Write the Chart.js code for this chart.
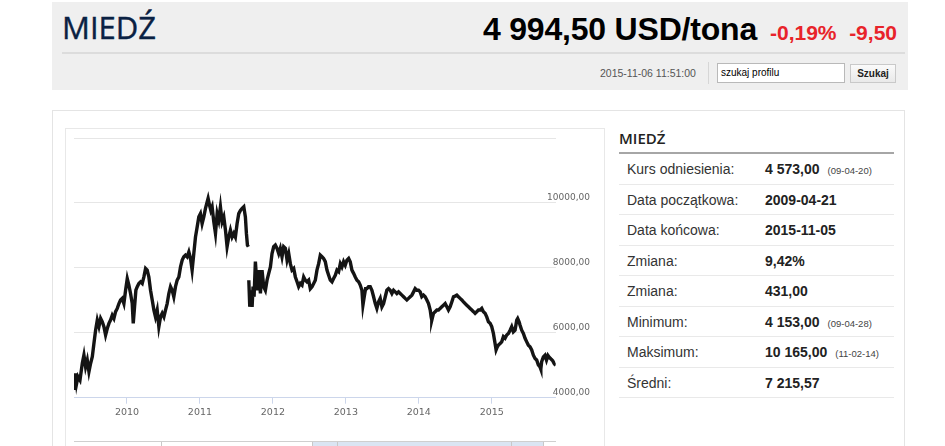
<!DOCTYPE html>
<html lang="pl">
<head>
<meta charset="utf-8">
<title>MIEDŹ</title>
<script src="https://cdn.jsdelivr.net/npm/chart.js@4.4.0/dist/chart.umd.min.js"></script>
<style>
  html, body { margin: 0; padding: 0; background: #fff; overflow: hidden; width: 945px; height: 446px; }
  body { position: relative; font-family: "Liberation Sans", Arial, sans-serif; }
  .abs { position: absolute; white-space: nowrap; }
  #hdr { left: 52px; top: 2px; width: 856px; height: 88px; background: #efefef; }
  #title { left: 62px; top: 12px; font: 400 31px/31px "Open Sans", sans-serif; color: #0a2143; -webkit-text-stroke: 0.4px #0a2143; }
  #price { right: 188px; top: 13px; font: 700 32px/32px "Liberation Sans", Arial, sans-serif; color: #000; letter-spacing: -0.2px; }
  .red { top: 22px; font: 700 21px/21px "Liberation Sans", Arial, sans-serif; color: #e8232a; }
  #hline { left: 62px; top: 52px; width: 843px; height: 2px; background: #dcdcdc; }
  #stamp { left: 600px; top: 67px; font: 10.5px/12px "Liberation Sans", Arial, sans-serif; color: #555; }
  #vsep { left: 708px; top: 62px; width: 1px; height: 22px; background: #d6d6d6; }
  #search { left: 717px; top: 63px; background: #fff; border: 1px solid #b9b9b9; box-sizing: border-box; width: 128px; height: 20px; font: 10px/18px "Liberation Sans", Arial, sans-serif; padding-left: 3px; color: #000; }
  #btn { left: 850px; top: 64px; width: 46px; height: 19px; box-sizing: border-box; border: 1px solid #c9c9c9; background: linear-gradient(#fafafa, #e9e9e9); font: 700 10px/17px "Liberation Sans", Arial, sans-serif; text-align: center; color: #222; }
  #box { left: 52px; top: 110px; width: 853px; height: 340px; border: 1px solid #e4e4e4; border-bottom: none; box-sizing: border-box; }
  #chartbox { left: 65px; top: 128px; width: 540px; height: 330px; border: 1px solid #e8e8e8; box-sizing: border-box; }
  #wrap { left: 66px; top: 129px; width: 534px; height: 312px; }
  #nav { left: 74px; top: 441px; width: 482px; height: 1px; background: #cfcfcf; }
  #navsel { left: 312px; top: 442px; width: 231px; height: 10px; background: #dbe5f3; }
  .navv { top: 442px; width: 1px; height: 10px; background: #c8c8c8; }
  #tbl-title { left: 619px; top: 128px; font: 600 15px/20px "Open Sans", sans-serif; color: #222; }
  #tbl-line { left: 619px; top: 152px; width: 275px; height: 2px; background: #a6a6a6; }
  #tbl { left: 619px; top: 154px; width: 275px; }
  .row { height: 29.5px; border-bottom: 1px solid #e9e9e9; position: relative; font-size: 14px; }
  .row .l { position: absolute; left: 8px; top: 7px; color: #333; }
  .row .v { position: absolute; left: 146px; top: 7px; color: #222; font-weight: 700; }
  .row .d { font-weight: 400; font-size: 9.5px; color: #444; margin-left: 8px; }
</style>
</head>
<body>
<div id="hdr" class="abs"></div>
<div id="title" class="abs">MIEDŹ</div>
<div id="price" class="abs">4 994,50 USD/tona</div>
<div class="abs red" style="left:770px">-0,19%</div>
<div class="abs red" style="right:48px">-9,50</div>
<div id="hline" class="abs"></div>
<div id="stamp" class="abs">2015-11-06 11:51:00</div>
<div id="vsep" class="abs"></div>
<div id="search" class="abs">szukaj profilu</div>
<div id="btn" class="abs">Szukaj</div>

<div id="box" class="abs"></div>
<div id="chartbox" class="abs"></div>
<div id="wrap" class="abs"><canvas id="myChart" width="534" height="312"></canvas></div>
<div id="nav" class="abs"></div>
<div id="navsel" class="abs"></div>
<div class="abs navv" style="left:161px"></div>
<div class="abs navv" style="left:312px"></div>
<div class="abs navv" style="left:337px"></div>
<div class="abs navv" style="left:511px"></div>
<div class="abs navv" style="left:543px"></div>

<div id="tbl-title" class="abs">MIEDŹ</div>
<div id="tbl-line" class="abs"></div>
<div id="tbl" class="abs">
  <div class="row"><span class="l">Kurs odniesienia:</span><span class="v">4 573,00<span class="d">(09-04-20)</span></span></div>
  <div class="row"><span class="l">Data początkowa:</span><span class="v">2009-04-21</span></div>
  <div class="row"><span class="l">Data końcowa:</span><span class="v">2015-11-05</span></div>
  <div class="row"><span class="l">Zmiana:</span><span class="v">9,42%</span></div>
  <div class="row"><span class="l">Zmiana:</span><span class="v">431,00</span></div>
  <div class="row"><span class="l">Minimum:</span><span class="v">4 153,00<span class="d">(09-04-28)</span></span></div>
  <div class="row"><span class="l">Maksimum:</span><span class="v">10 165,00<span class="d">(11-02-14)</span></span></div>
  <div class="row"><span class="l">Średni:</span><span class="v">7 215,57</span></div>
</div>

<script>
// dates as decimal years, prices in USD/t
const dates2009 = [2009.274,2009.283,2009.296,2009.310,2009.328,2009.356,2009.388,2009.410,2009.433,2009.456,
  2009.479,2009.502,2009.525,2009.547,2009.570,2009.593,2009.616,2009.639,2009.661,2009.684,
  2009.707,2009.730,2009.753,2009.775,2009.798,2009.821,2009.844,2009.867,2009.890,2009.912,
  2009.935,2009.958,2009.981,
  2010.004,2010.026,2010.049,2010.072,2010.086,2010.104,2010.122,2010.141,2010.163,2010.186,
  2010.209,2010.232,2010.255,2010.277,2010.300,2010.323,2010.346,2010.369,2010.391,2010.414,
  2010.437,2010.460,2010.483,2010.506,2010.528,2010.551,2010.574,2010.597,2010.620,2010.642,
  2010.665,2010.688,2010.711,2010.734,2010.757,2010.779];
const prices2009 = [4400,4240,4750,4440,4650,4540,5060,5310,4950,5160,
  4800,5060,5260,5670,6080,6390,6190,6440,6340,6190,
  5930,6130,6290,6390,6540,6440,6650,6750,6900,7010,
  7060,6900,7310,
  7670,7470,7210,6900,6290,6800,7310,7420,7520,7570,
  7520,7720,7980,7930,7720,7310,7010,6700,6490,6700,
  6190,6490,6600,6490,6700,6900,7210,7420,7310,7110,
  7420,7620,7720,8030,8240,8340];

const dates2011 = [2010.802,2010.825,2010.848,2010.871,2010.893,2010.916,2010.939,2010.962,2010.985,
  2011.007,2011.030,2011.053,2011.076,2011.099,2011.112,2011.131,2011.149,2011.167,2011.190,
  2011.213,2011.236,2011.258,2011.281,2011.304,2011.327,2011.350,2011.372,2011.395,2011.418,
  2011.441,2011.464,2011.486,2011.509,2011.532,2011.555,2011.578,2011.601,2011.623,2011.637,
  2011.651,2011.664,2011.667,2011.670,2011.683,2011.696,2011.715,2011.728,2011.742,2011.760,
  2011.774,2011.788,2011.806,2011.829,2011.851,2011.874,2011.897,2011.920,2011.943,2011.966,
  2011.988,2012.011,2012.034,2012.057,2012.080,2012.102,2012.125,2012.148,2012.171,2012.194,
  2012.217,2012.239,2012.262,2012.285,2012.308,2012.331,2012.353];
const prices2011 = [8390,8340,8490,8290,7930,8440,8950,9260,9570,
  9670,9360,9570,9830,10030,10140,9930,9770,9880,9420,
  9060,9670,9470,9880,9420,9570,9160,8650,8950,9160,
  8950,9060,8950,9360,9670,9770,9830,9880,9570,9060,
  8700,8650,null,7620,6800,7310,6800,7420,7110,8190,
  7720,7310,7930,7210,7930,7420,7310,7620,7830,8030,
  8440,8650,8700,8600,8440,8600,8340,8650,8600,8240,
  8440,8130,7930,7980,7720,7570,7420];

const dates2012 = [2012.376,2012.399,2012.422,2012.445,2012.467,2012.490,2012.513,2012.536,2012.559,2012.581,
  2012.604,2012.627,2012.650,2012.673,2012.695,2012.718,2012.741,2012.764,2012.787,2012.810,
  2012.832,2012.855,2012.878,2012.901,2012.924,2012.946,2012.969,2012.992,
  2013.015,2013.038,2013.060,2013.083,2013.106,2013.129,2013.152,2013.175,2013.197,2013.220,
  2013.234,2013.252,2013.270,2013.289,2013.311,2013.334,2013.357,2013.380,2013.403,2013.425,
  2013.448,2013.471,2013.494,2013.517,2013.540,2013.562,2013.585,2013.608,2013.631,2013.654,
  2013.677,2013.699,2013.722,2013.745,2013.768,2013.791,2013.813,2013.836,2013.859,2013.882,
  2013.905,2013.928];
const prices2012 = [7520,7470,7720,7620,7570,7620,7360,7420,7520,7620,
  7930,8130,8390,8340,8290,8190,7930,7770,7620,7570,
  7670,7770,7930,7880,8130,8030,8190,8080,
  8240,8290,8190,7930,7830,7720,7620,7570,7470,7310,
  6850,7110,7360,7360,7420,7420,7310,7110,6900,6750,
  6950,7060,6800,6900,7110,7310,7360,7310,7210,7310,
  7260,7210,7260,7210,7160,7110,7060,7010,7060,7110,
  7160,7260];

const dates2014 = [2013.950,2013.973,2013.996,2014.019,2014.041,2014.064,2014.087,2014.110,2014.133,2014.156,
  2014.169,2014.178,2014.201,2014.224,2014.247,2014.270,2014.292,2014.315,2014.338,2014.361,
  2014.384,2014.406,2014.429,2014.452,2014.475,2014.498,2014.521,2014.543,2014.566,2014.589,
  2014.612,2014.634,2014.657,2014.680,2014.703,2014.726,2014.749,2014.771,2014.794,2014.817,
  2014.840,2014.863,2014.885,2014.908,2014.931,2014.954,2014.977,2014.999,
  2015.022,2015.045,2015.059,2015.077,2015.091,2015.114,2015.136,2015.159,2015.182,2015.205,
  2015.228,2015.251,2015.273,2015.296,2015.319,2015.342,2015.355,2015.374,2015.387,2015.410,
  2015.433,2015.456,2015.479,2015.501,2015.524,2015.547,2015.570,2015.593,2015.615,2015.638,
  2015.661,2015.672,2015.684,2015.707,2015.729,2015.750,2015.770,2015.790,2015.812,2015.835,
  2015.855,2015.876];
const prices2014 = [7360,7310,7310,7260,7110,7160,7110,7010,6900,6700,
  6490,6390,6600,6650,6700,6700,6750,6800,6850,6900,
  6800,6700,6800,6950,7110,7130,7160,7110,7060,7010,
  6950,6900,6850,6800,6750,6700,6650,6600,6650,6700,
  6700,6750,6650,6600,6490,6340,6290,6190,
  5980,5670,5470,5570,5620,5670,5720,5880,5830,5930,
  5980,6080,6190,6030,6080,6390,6440,6340,6240,6080,
  5980,5830,5720,5620,5570,5470,5310,5210,5160,5010,
  4950,4880,5110,5260,5310,5160,5300,5240,5190,5140,
  5050,4995];

const yearTicks = [2010, 2011, 2012, 2013, 2014, 2015];
const priceTicks = [4000, 6000, 8000, 10000, 12000];

const dates = [...dates2009, ...dates2011, ...dates2012, ...dates2014];
const prices = [...prices2009, ...prices2011, ...prices2012, ...prices2014];

const points = dates.map((d, i) => ({ x: d, y: prices[i] }));

const ctx = document.getElementById('myChart').getContext('2d');
const myChart = new Chart(ctx, {
    type: 'line',
    data: {
        datasets: [{
            data: points,
            borderColor: "#141414",
            borderWidth: 3.4,
            pointRadius: 0,
            tension: 0,
            spanGaps: false,
            fill: false,
        }]
    },
    options: {
        responsive: false,
        animation: false,
        events: [],
        layout: { padding: { left: 8, top: 9, right: 10, bottom: 0 } },
        plugins: { legend: { display: false }, tooltip: { enabled: false } },
        scales: {
            x: {
                type: 'linear',
                min: dates[0],
                max: dates[dates.length - 1],
                afterBuildTicks: (scale) => { scale.ticks = yearTicks.map(v => ({ value: v })); },
                afterFit: (scale) => { scale.height = 43.3; },
                grid: { drawOnChartArea: false, color: '#ccd6eb', tickLength: 6 },
                border: { color: '#ccd6eb' },
                ticks: {
                    font: { family: "DejaVu Sans", size: 9.5 },
                    color: '#666',
                    padding: 3,
                    maxRotation: 0,
                    callback: (v) => String(v),
                },
            },
            y: {
                position: 'right',
                min: priceTicks[0],
                max: priceTicks[priceTicks.length - 1],
                afterBuildTicks: (scale) => { scale.ticks = priceTicks.map(v => ({ value: v })); },
                afterFit: (scale) => {
                    scale.width = 34.3;
                    scale.paddingTop = 0;
                    scale.paddingBottom = 0;
                },
                grid: { color: '#e6e6e6', drawTicks: false },
                border: { display: false },
                ticks: {
                    font: { family: "DejaVu Sans", size: 9 },
                    color: '#666',
                    mirror: true,
                    crossAlign: 'near',
                    padding: 34.3,
                    labelOffset: -5,
                    callback: (v) => v === 12000 ? '' : v.toFixed(2).replace('.', ','),
                },
            },
        },
    },
});
</script>
</body>
</html>
